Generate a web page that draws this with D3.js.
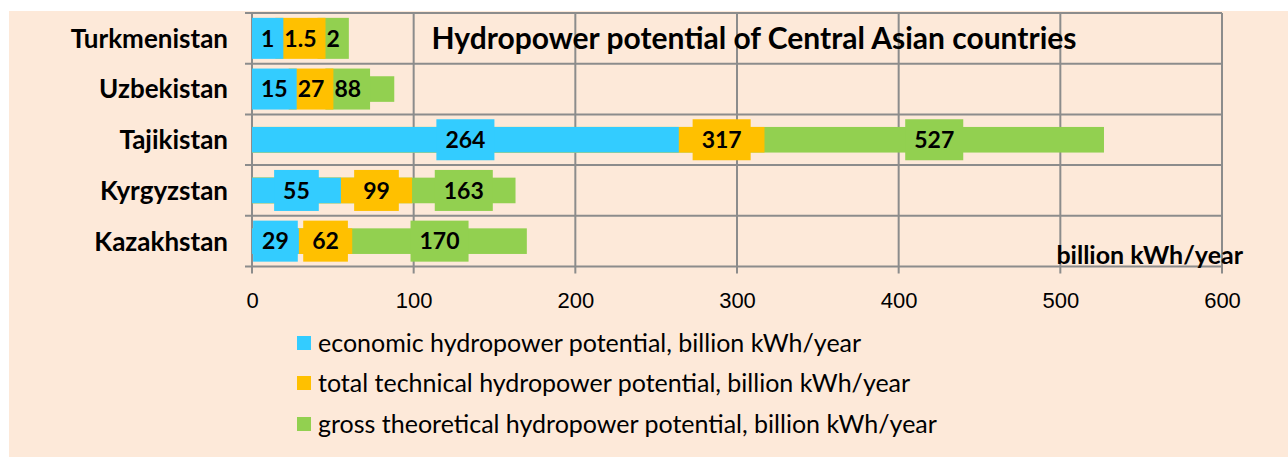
<!DOCTYPE html>
<html lang="en">
<head>
    <meta charset="UTF-8">
    <title>Hydropower potential of Central Asian countries</title>
    <script src="https://d3js.org/d3.v7.min.js"></script>
    <style>
        body { margin: 0; background: #ffffff; }
        svg { display: block; font-family: Lato, "Open Sans", sans-serif; }
        .grid line { stroke: #8c8c8c; stroke-width: 2; }
        .cat-label { font-size: 26px; font-weight: bold; fill: #000; }
        .val-label { font-size: 23px; font-weight: bold; fill: #000; }
        .tick-label { font-size: 22px; fill: #000; }
        .legend-text { font-size: 25px; fill: #000; }
    </style>
</head>
<body>
    <svg id="chart" width="1288" height="457"></svg>

    <script>
        // data, top row first
        const countries = ["Turkmenistan", "Uzbekistan", "Tajikistan", "Kyrgyzstan", "Kazakhstan"];
        const economic = [1, 15, 264, 55, 29];
        const technical = [1.5, 27, 317, 99, 62];
        const gross = [2, 88, 527, 163, 170];
        const xTicks = [0, 100, 200, 300, 400, 500, 600];

        const seriesNames = [
            "economic hydropower potential, billion kWh/year",
            "total technical hydropower potential, billion kWh/year",
            "gross theoretical hydropower potential, billion kWh/year"
        ];
        const colors = ["#33ccff", "#ffc000", "#92d050"];
        const seriesValues = [economic, technical, gross];

        const plot = { left: 252, right: 1222, top: 13, bottom: 266.5 };

        const svg = d3.select("#chart");

        svg.append("rect")
            .attr("x", 9).attr("y", 11)
            .attr("width", 1279).attr("height", 446)
            .attr("fill", "#fde9d9");

        const x = d3.scaleLinear().domain([0, 600]).range([plot.left, plot.right]);
        const y = d3.scaleBand().domain(countries).range([plot.top, plot.bottom]);
        const barH = y.bandwidth() * 0.505;

        // gridlines
        const grid = svg.append("g").attr("class", "grid");
        grid.selectAll("line.v")
            .data(xTicks)
            .enter().append("line")
            .attr("x1", d => x(d)).attr("x2", d => x(d))
            .attr("y1", plot.top).attr("y2", plot.bottom + 7);

        const bounds = countries.map(c => y(c)).concat([plot.bottom]);
        grid.selectAll("line.h")
            .data(bounds)
            .enter().append("line")
            .attr("x1", plot.left - 7).attr("x2", plot.right)
            .attr("y1", d => d).attr("y2", d => d);

        // x axis labels
        svg.append("g")
            .attr("transform", `translate(0,${plot.bottom})`)
            .call(d3.axisBottom(x).tickValues(xTicks).tickSize(7).tickPadding(19))
            .call(g => g.select(".domain").remove())
            .call(g => g.selectAll(".tick line").remove())
            .call(g => g.selectAll("text").attr("class", "tick-label"));

        svg.selectAll(".tick-label").attr("font-size", null).attr("font-family", null);
        svg.selectAll(".tick").attr("font-size", null).attr("font-family", null);

        // category labels
        svg.selectAll("text.cat-label")
            .data(countries)
            .enter().append("text")
            .attr("class", "cat-label")
            .attr("x", 228)
            .attr("y", d => y(d) + y.bandwidth() / 2)
            .attr("dy", "0.36em")
            .attr("text-anchor", "end")
            .text(d => d);

        // bars, drawn largest first so they overlap like the stacked original
        const bars = svg.append("g");
        [2, 1, 0].forEach(s => {
            bars.selectAll(null)
                .data(countries)
                .enter().append("rect")
                .attr("x", x(0))
                .attr("y", d => y(d) + (y.bandwidth() - barH) / 2)
                .attr("width", (d, i) => x(seriesValues[s][i]) - x(0))
                .attr("height", barH)
                .attr("fill", colors[s]);
        });

        // value labels with coloured boxes, centred on each visible segment;
        // crowded labels get pushed right, earlier series drawn on top
        const labels = svg.append("g");
        const boxH = 41, pad = 9, gap = 10;
        countries.forEach((c, i) => {
            const cy = y(c) + y.bandwidth() / 2;
            const row = labels.append("g");
            const items = [];
            let start = 0;
            let prev = null;
            seriesValues.forEach((vals, s) => {
                const v = vals[i];
                const g = row.insert("g", ":first-child");
                const box = g.append("rect").attr("fill", colors[s]);
                const t = g.append("text")
                    .attr("class", "val-label")
                    .attr("text-anchor", "middle")
                    .attr("dy", "0.36em")
                    .attr("y", cy)
                    .text(v);
                const tw = t.node().getComputedTextLength();
                const w = tw + 2 * pad;
                let cx = x((start + v) / 2);
                cx = Math.max(cx, x(0) + w / 2);
                if (prev) cx = Math.max(cx, prev.cx + prev.tw / 2 + gap + tw / 2);
                box.attr("x", cx - w / 2).attr("y", cy - boxH / 2)
                    .attr("width", w).attr("height", boxH);
                t.attr("x", cx);
                prev = { cx, tw };
                start = v;
            });
        });

        // unit label
        svg.append("text")
            .attr("x", 1243).attr("y", 255)
            .attr("dy", "0.36em")
            .attr("text-anchor", "end")
            .attr("font-size", "25px")
            .attr("font-weight", "bold")
            .text("billion kWh/year");

        // title
        svg.append("text")
            .attr("x", 754).attr("y", 38)
            .attr("dy", "0.36em")
            .attr("text-anchor", "middle")
            .attr("font-size", "30px")
            .attr("font-weight", "bold")
            .text("Hydropower potential of Central Asian countries");

        // legend
        const legend = svg.append("g");
        const legendY = [343, 383, 424];
        seriesNames.forEach((name, s) => {
            legend.append("rect")
                .attr("x", 297).attr("y", legendY[s] - 7)
                .attr("width", 14).attr("height", 14)
                .attr("fill", colors[s]);
            legend.append("text")
                .attr("class", "legend-text")
                .attr("x", 318).attr("y", legendY[s])
                .attr("dy", "0.36em")
                .text(name);
        });
    </script>
</body>
</html>
